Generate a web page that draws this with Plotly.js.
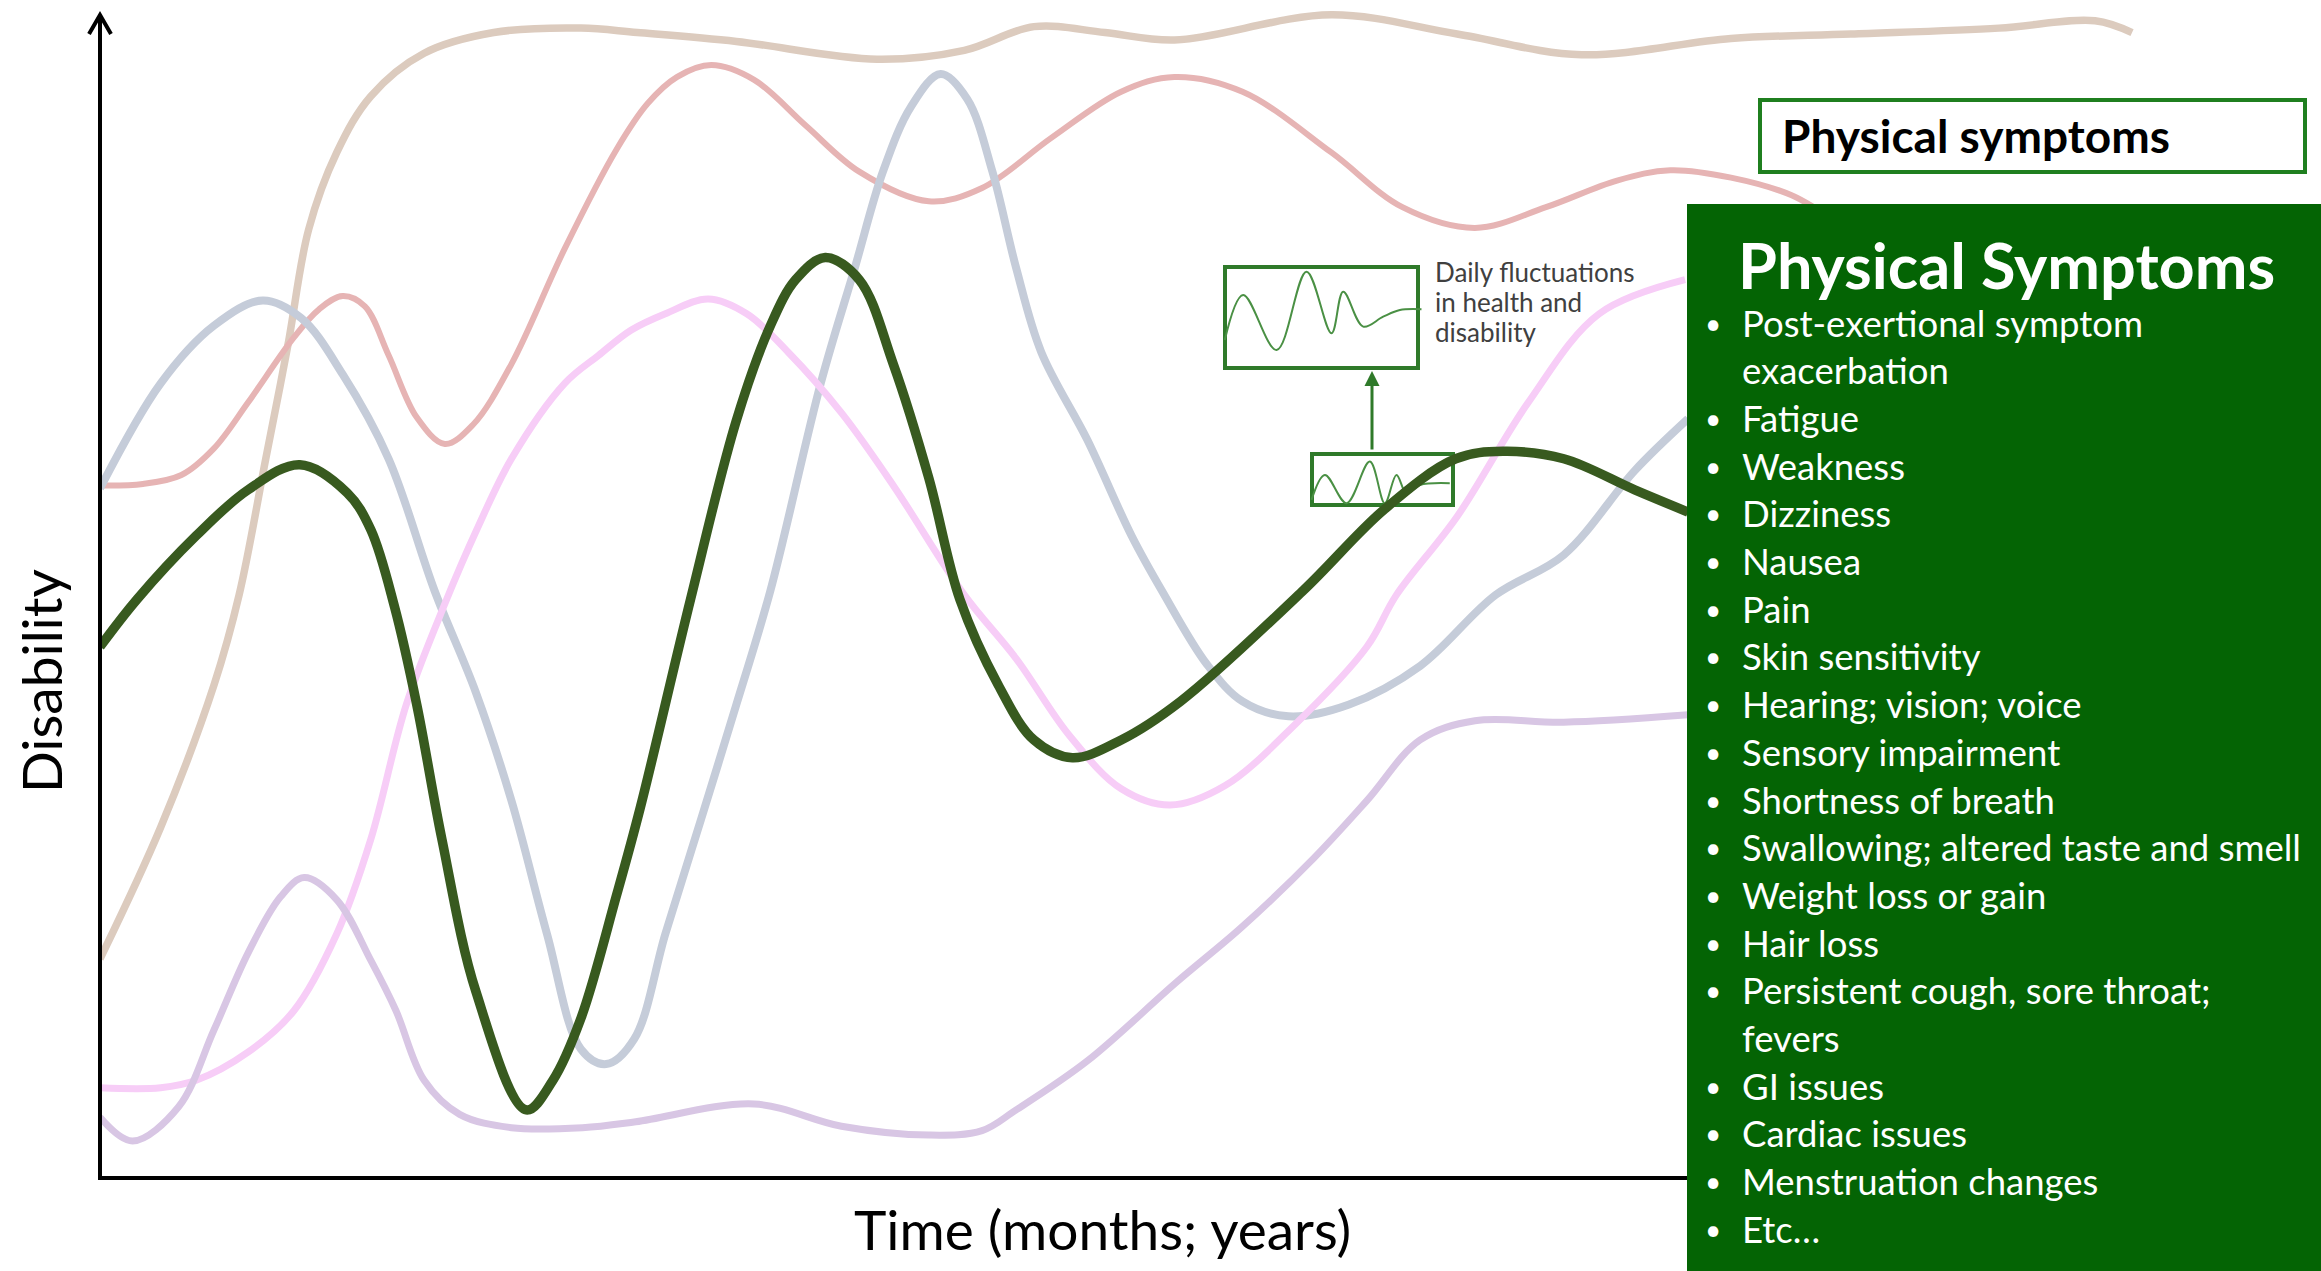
<!DOCTYPE html>
<html>
<head>
<meta charset="utf-8">
<script src="https://cdn.plot.ly/plotly-3.0.1.min.js"></script>
<style>
html,body{margin:0;padding:0;background:#ffffff;}
#chart{width:2321px;height:1271px;}
</style>
</head>
<body>
<div id="chart"></div>
<script>
// ---- Data (time in arbitrary units 0-150, disability in arbitrary units 0-79.6) ----
const greenTime = [0,2.5,6.5,10.0,13.5,16.7,18.3,19.9,21.4,23.1,25.4,28.8,30.6,32.5,34.9,36.5,39.9,43.0,45.3,47.0,49.0,51.3,53.6,56.0,58.1,60.7,63.1,65.7,69.0,73.0,81.3,86.8,91.6,94.8,98.9,103.7,107.3];
const greenDisability = [35.9,39.1,43.4,46.5,48.2,46.3,43.8,38.6,32.0,22.9,12.6,4.6,6.6,10.8,19.1,25.0,39.1,51.2,57.6,60.7,62.2,60.7,55.0,47.3,39.1,33.3,29.6,28.4,29.6,32.2,39.7,45.2,48.6,49.1,48.6,46.5,45.0];

const blueTime = [0,4.1,7.7,11.0,13.6,16.4,19.5,22.6,25.4,27.8,30.2,32.5,34.2,36.1,38.2,40.6,43.0,45.3,48.7,51.0,52.9,54.8,56.8,58.6,60.3,61.9,63.6,66.7,69.7,71.8,74.8,77.2,80.3,84.4,89.2,94.3,98.9,103.7,107.3];
const blueDisability = [46.6,53.7,57.6,59.3,58.1,54.3,48.6,39.7,32.8,25.5,16.5,8.7,7.7,9.4,16.5,24.2,32.0,39.7,53.7,61.5,68.0,72.4,74.6,72.9,68.0,61.5,55.8,49.9,43.4,39.6,34.7,32.2,31.2,32.0,34.6,39.4,42.1,47.8,51.3];

const tanTime = [0,4.1,7.7,9.4,11.2,12.7,14.1,16.0,18.3,21.9,26.6,32.5,36.3,43.0,52.5,58.4,63.1,67.9,72.6,83.2,91.7,100.1,110.2,118.3,128.3,134.8,137.3];
const tanDisability = [14.8,23.7,33.3,39.4,48.6,56.3,64.1,69.3,73.1,76.0,77.4,77.7,77.4,76.8,75.6,76.2,77.8,77.4,76.9,78.6,77.3,75.9,77.0,77.3,77.7,78.2,77.4];

const redTime = [0,2.9,5.5,7.7,10.0,13.1,14.8,16.4,17.9,19.5,21.4,23.3,25.2,27.8,31.4,34.9,37.0,39.0,41.3,44.2,47.7,51.3,56.0,59.6,64.3,69.0,72.6,77.2,83.2,88.0,92.9,97.7,102.5,106.1,110.2,114.3,117.3];
const redDisability = [46.8,46.9,47.5,49.3,52.4,56.8,58.7,59.6,58.9,55.6,51.4,49.6,50.9,55.0,62.8,69.5,72.6,74.4,75.2,74.2,71.1,68.0,66.0,66.9,70.3,73.4,74.4,73.4,69.3,65.6,64.2,65.6,67.4,68.1,67.6,66.4,64.6];

const pinkTime = [0,4.1,6.5,10.0,13.1,16.0,18.3,20.7,23.3,25.5,27.8,31.4,33.7,35.9,38.2,41.1,43.7,46.5,50.1,53.6,58.4,61.9,65.5,69.0,72.3,76.0,80.8,85.6,87.6,91.7,96.5,101.3,107.1];
const pinkDisability = [6.1,6.1,6.6,8.5,11.3,16.5,22.9,32.0,38.8,43.9,48.6,53.7,55.6,57.3,58.4,59.4,58.4,55.8,51.7,46.8,39.4,35.1,29.9,26.3,25.2,26.5,30.7,35.9,39.4,44.7,52.4,58.4,60.7];

const purpleTime = [0,2.2,5.3,7.7,10.0,12.2,13.8,16.0,18.3,20.0,21.9,24.3,27.8,32.6,36.2,44.2,50.1,56.0,59.6,61.9,66.7,72.7,77.2,82.0,85.6,89.2,92.9,98.9,107.3];
const purpleDisability = [4.1,2.5,4.8,10.0,15.2,19.0,20.3,18.8,14.7,11.3,6.6,4.3,3.4,3.4,3.8,5.0,3.5,2.9,3.2,4.6,7.9,13.2,17.0,21.6,25.5,29.6,30.9,30.8,31.3];

// daily fluctuation insets
const insetBigTime = [76.0,77.24,79.50,81.52,83.21,84.0,85.35,86.70,87.83,89.29];
const insetBigLevel = [56.63,59.67,55.95,61.24,57.08,59.89,57.53,58.20,58.65,58.70];
const insetSmallTime = [81.86,82.76,84.23,85.80,86.81,87.60,88.28,89.18,91.20];
const insetSmallLevel = [45.82,47.51,45.60,48.41,45.60,47.51,46.27,46.83,46.95];

// texts
const yTitle = "Disability";
const xTitle = "Time (months; years)";
const headerLabel = "Physical symptoms";
const panelTitle = "Physical Symptoms";
const insetLabel = ["Daily fluctuations", "in health and", "disability"];
const symptoms = [
  "Post-exertional symptom<br>exacerbation",
  "Fatigue",
  "Weakness",
  "Dizziness",
  "Nausea",
  "Pain",
  "Skin sensitivity",
  "Hearing; vision; voice",
  "Sensory impairment",
  "Shortness of breath",
  "Swallowing; altered taste and smell",
  "Weight loss or gain",
  "Hair loss",
  "Persistent cough, sore throat;<br>fevers",
  "GI issues",
  "Cardiac issues",
  "Menstruation changes",
  "Etc\u2026"
];

// ---- Layout geometry ----
const W = 2321, H = 1271, L = 100, R = 1, T = 0, B = 93;
const PW = W - L - R, PH = H - T - B;
const X = px => (px - L) / PW;
const Y = py => (T + PH - py) / PH;
const FONT = "Lato, 'Open Sans', sans-serif";

function curve(x, y, color, width) {
  return {x: x, y: y, type: 'scatter', mode: 'lines',
    line: {color: color, width: width, shape: 'spline', smoothing: 1},
    hoverinfo: 'skip', showlegend: false};
}

const traces = [
  curve(tanTime, tanDisability, '#dccbbe', 7.5),
  curve(redTime, redDisability, '#e6b4b4', 6),
  curve(blueTime, blueDisability, '#c5ccd9', 8),
  curve(pinkTime, pinkDisability, '#f7cdf7', 7),
  curve(purpleTime, purpleDisability, '#d8c6e4', 7),
  curve(insetBigTime, insetBigLevel, '#4a9044', 2),
  curve(insetSmallTime, insetSmallLevel, '#4a9044', 2),
  curve(greenTime, greenDisability, '#385a1f', 9.5)
];

const insetGreen = '#2f7a2a';
const shapes = [
  {type:'line', xref:'paper', yref:'paper', x0:X(100), x1:X(100), y0:Y(1180), y1:Y(16), line:{color:'#000', width:4}},
  {type:'path', xref:'paper', yref:'paper', path:`M ${X(89)},${Y(34)} L ${X(100)},${Y(15)} L ${X(111)},${Y(34)}`, line:{color:'#000', width:4}},
  {type:'line', xref:'paper', yref:'paper', x0:X(98), x1:X(1700), y0:Y(1178), y1:Y(1178), line:{color:'#000', width:4}},
  {type:'rect', xref:'paper', yref:'paper', layer:'below', x0:X(1225), x1:X(1418), y0:Y(267), y1:Y(368), line:{color:insetGreen, width:4}},
  {type:'rect', xref:'paper', yref:'paper', layer:'below', x0:X(1312), x1:X(1453), y0:Y(454), y1:Y(505), line:{color:insetGreen, width:4}},
  {type:'rect', xref:'paper', yref:'paper', layer:'above', x0:X(1687), x1:X(2330), y0:Y(204), y1:Y(1280), fillcolor:'#046404', line:{width:0}},
  {type:'rect', xref:'paper', yref:'paper', layer:'above', x0:X(1760), x1:X(2305), y0:Y(100), y1:Y(172), fillcolor:'#ffffff', line:{color:'#1f7f1f', width:4}}
];

const ann = [];
function txt(t, px, py, size, color, xanchor, extra) {
  const a = {text: t, xref:'paper', yref:'paper', x: X(px), y: Y(py), xanchor: xanchor, yanchor:'middle',
    showarrow:false, borderpad:0, font:{family:FONT, size:size, color:color}};
  return Object.assign(a, extra || {});
}
ann.push(txt(yTitle, 41, 681, 55, '#000', 'center', {textangle:-90}));
ann.push(txt(xTitle, 1102, 1229, 55, '#000', 'center'));
ann.push(txt('<b>' + headerLabel + '</b>', 1781, 136, 46, '#000', 'left'));
ann.push(txt('<b>' + panelTitle + '</b>', 2006, 264, 63, '#ffffff', 'center'));
const insetY = [272, 302, 332];
insetLabel.forEach((s, i) => ann.push(txt(s, 1434, insetY[i], 26, '#404040', 'left')));
ann.push({text:'', xref:'paper', yref:'paper', x:X(1372), y:Y(371), ax:0, ay:80, showarrow:true,
  arrowhead:2, arrowsize:1, arrowwidth:3, arrowcolor:insetGreen});

let line = 0;
const lineY0 = 322.7, lineStep = 47.68;
symptoms.forEach(item => {
  const parts = item.split('<br>');
  parts.forEach((p, j) => {
    const py = lineY0 + line * lineStep;
    if (j === 0) ann.push(txt('\u2022', 1713, py, 28, '#ffffff', 'center'));
    ann.push(txt(p, 1741, py, 36.5, '#ffffff', 'left'));
    line++;
  });
});

const layout = {
  width: W, height: H,
  margin: {l: L, r: R, t: T, b: B, pad: 0},
  paper_bgcolor: '#ffffff', plot_bgcolor: '#ffffff',
  showlegend: false,
  xaxis: {range: [0, 150], visible: true, showline: false, showgrid: false, zeroline: false, showticklabels: false, ticks: '', fixedrange: true},
  yaxis: {range: [0, 79.6], visible: true, showline: false, showgrid: false, zeroline: false, showticklabels: false, ticks: '', fixedrange: true},
  shapes: shapes,
  annotations: ann
};

Plotly.newPlot('chart', traces, layout, {staticPlot: true, displayModeBar: false});
</script>
</body>
</html>
